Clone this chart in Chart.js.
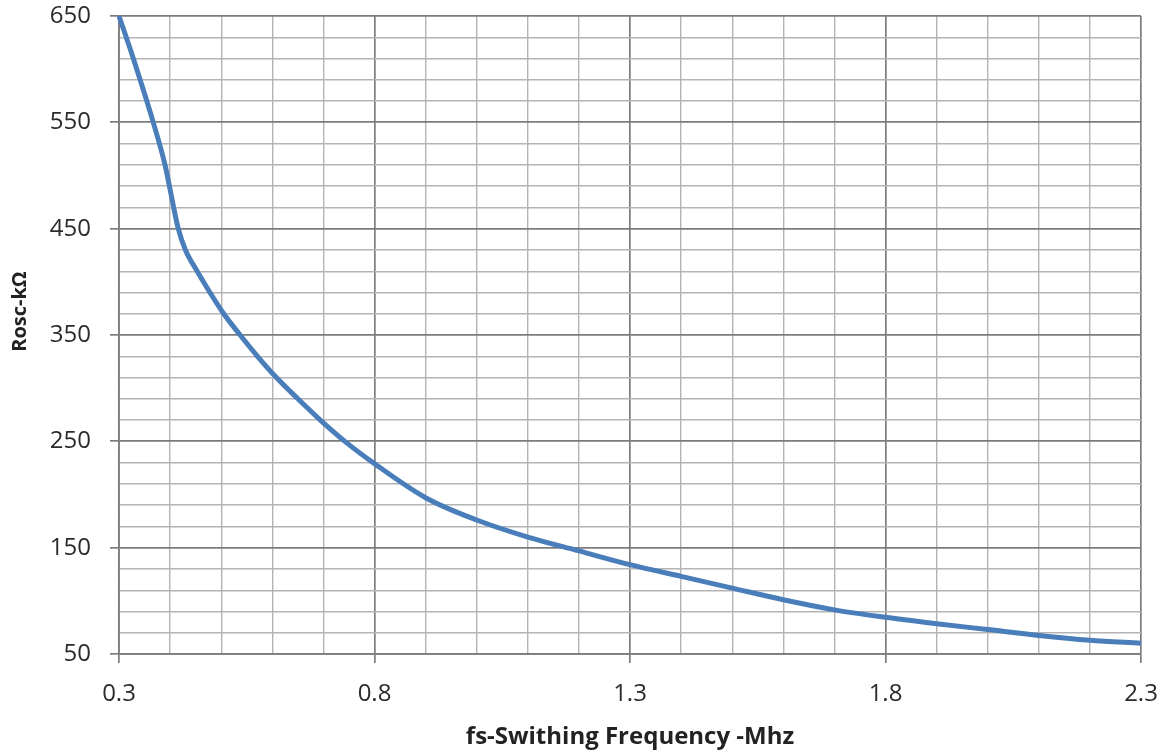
<!DOCTYPE html>
<html>
<head>
<meta charset="utf-8">
<script src="https://cdn.jsdelivr.net/npm/chart.js@4"></script>
<style>
  html, body { margin: 0; padding: 0; background: #ffffff; }
  #wrap { width: 1166px; height: 754px; }
</style>
</head>
<body>
<div id="wrap"><canvas id="c" width="1166" height="754"></canvas></div>
<script>
// ---- data ----
const freqMHz  = [0.3, 0.328, 0.367, 0.39, 0.407, 0.416, 0.43, 0.453, 0.478, 0.505, 0.537, 0.571, 0.608, 0.65, 0.694, 0.742, 0.8, 0.9, 1.0, 1.1, 1.2, 1.3, 1.4, 1.5, 1.6, 1.7, 1.8, 1.9, 2.0, 2.1, 2.2, 2.3];
const roscKOhm = [650, 610, 550, 510, 470, 450, 430, 410, 390, 370, 350, 330, 310, 290, 270, 250, 229, 197, 176, 160, 147, 134, 123, 112, 101, 91.5, 84.5, 78.5, 73, 67.5, 63, 60];

// ---- axes ----
const xTickLabels = ['0.3', '0.8', '1.3', '1.8', '2.3'];
const yTickLabels = ['50', '150', '250', '350', '450', '550', '650'];
const xGridStep = 0.1;
const yGridStep = 20;
const xTitle = 'fs-Swithing Frequency -Mhz';
const yTitle = 'Rosc-kΩ';

const points = freqMHz.map((f, i) => ({ x: f, y: roscKOhm[i] }));

const MAJOR = '#7c7c7c', MINOR = '#b4b4b4';
const isMajorX = v => xTickLabels.includes(Number(v).toFixed(1));
const isMajorY = v => yTickLabels.includes(String(Math.round(v)));

new Chart(document.getElementById('c'), {
  type: 'line',
  data: {
    datasets: [{
      data: points,
      borderColor: '#4a7ebb',
      borderWidth: 5,
      pointRadius: 0,
      fill: false,
      cubicInterpolationMode: 'monotone',
      clip: 6
    }]
  },
  options: {
    responsive: false,
    animation: false,
    devicePixelRatio: 1,
    layout: { padding: { left: 0, right: 25, top: 16, bottom: 0 } },
    plugins: { legend: { display: false }, tooltip: { enabled: false } },
    scales: {
      x: {
        type: 'linear',
        min: 0.3, max: 2.3,
        ticks: {
          stepSize: xGridStep,
          autoSkip: false, maxRotation: 0,
          padding: 17,
          color: '#2b2b2b',
          font: { family: 'Open Sans', size: 24 },
          callback: v => isMajorX(v) ? Number(v).toFixed(1) : ''
        },
        grid: {
          color: c => isMajorX(c.tick.value) ? MAJOR : MINOR,
          lineWidth: c => isMajorX(c.tick.value) ? 1.7 : 1.4,
          tickColor: c => isMajorX(c.tick.value) ? MAJOR : 'rgba(0,0,0,0)',
          tickLength: 9,
          drawTicks: true
        },
        border: { color: MAJOR, width: 1.7 },
        title: {
          display: true, text: xTitle, color: '#222',
          font: { family: 'Open Sans', size: 24, weight: 'bold' },
          padding: { top: 0, bottom: 2 }
        },
        afterFit: s => { s.height = 100; s.paddingLeft = 0; s.paddingRight = 0; }
      },
      y: {
        type: 'linear',
        min: 50, max: 650,
        ticks: {
          stepSize: yGridStep,
          autoSkip: false,
          padding: 19,
          color: '#2b2b2b',
          font: { family: 'Open Sans', size: 24 },
          callback: v => isMajorY(v) ? String(v) : ''
        },
        grid: {
          color: c => isMajorY(c.tick.value) ? MAJOR : MINOR,
          lineWidth: c => isMajorY(c.tick.value) ? 1.7 : 1.4,
          tickColor: c => isMajorY(c.tick.value) ? MAJOR : 'rgba(0,0,0,0)',
          tickLength: 9,
          drawTicks: true
        },
        border: { color: MAJOR, width: 1.7 },
        title: {
          display: true, text: '         ' + yTitle, color: '#222',
          font: { family: 'Open Sans', size: 20, weight: 'bold' },
          padding: { top: 8, bottom: 0 }
        },
        afterFit: s => { s.width = 119; s.paddingTop = 0; s.paddingBottom = 0; }
      }
    }
  }
});
</script>
</body>
</html>
